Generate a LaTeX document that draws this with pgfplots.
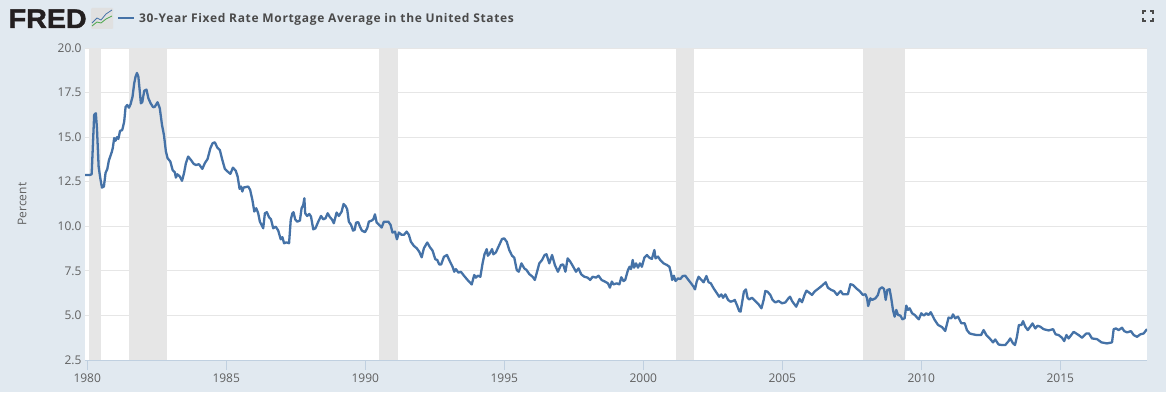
\documentclass[border=0pt]{standalone}
\usepackage{fontspec}
\setmainfont{Open Sans}
\newfontfamily\titlefont[LetterSpace=5.5]{Open Sans}
\newfontfamily\logofont[FakeBold=1.6,FakeStretch=1.06]{Liberation Sans}
\usepackage{pgfplots}
\usepackage{pgfplotstable}
\pgfplotsset{compat=1.18}
\definecolor{bgc}{HTML}{E1E9F0}
\definecolor{linec}{HTML}{4572A7}
\definecolor{gridc}{HTML}{E6E6E6}
\definecolor{recc}{HTML}{E6E6E6}
\definecolor{axisc}{HTML}{C0D0E0}
\definecolor{txtc}{HTML}{606060}
\definecolor{titlec}{HTML}{4A4A4A}
\definecolor{logoc}{HTML}{231F20}
\pgfplotstableread{
year value
1979.92 12.88
1980.10 12.88
1980.16 12.92
1980.20 14.40
1980.25 16.25
1980.31 16.34
1980.35 15.50
1980.41 13.35
1980.47 12.70
1980.53 12.17
1980.60 12.23
1980.66 13.00
1980.72 13.20
1980.78 13.70
1980.88 14.15
1980.92 14.40
1980.97 14.95
1981.02 14.80
1981.07 15.00
1981.12 14.90
1981.18 15.35
1981.26 15.40
1981.33 15.87
1981.38 16.70
1981.44 16.80
1981.50 16.65
1981.56 16.85
1981.63 17.27
1981.69 18.02
1981.74 18.40
1981.79 18.60
1981.84 18.38
1981.88 17.74
1981.93 16.90
1981.98 16.96
1982.05 17.60
1982.13 17.67
1982.20 17.18
1982.28 16.90
1982.37 16.68
1982.43 16.70
1982.53 16.96
1982.61 16.62
1982.69 15.68
1982.76 15.12
1982.83 14.19
1982.89 13.82
1982.99 13.63
1983.07 13.16
1983.15 13.03
1983.19 12.73
1983.24 12.92
1983.33 12.79
1983.41 12.55
1983.48 12.97
1983.55 13.54
1983.63 13.91
1983.73 13.72
1983.83 13.50
1983.91 13.44
1984.02 13.48
1984.14 13.22
1984.23 13.54
1984.33 13.78
1984.43 14.38
1984.51 14.66
1984.59 14.71
1984.68 14.41
1984.77 14.28
1984.86 13.72
1984.95 13.22
1985.05 13.07
1985.15 12.94
1985.24 13.29
1985.34 13.12
1985.41 12.79
1985.48 12.10
1985.53 12.23
1985.58 11.95
1985.62 12.17
1985.79 12.23
1985.86 12.04
1985.94 11.48
1986.01 10.83
1986.08 11.01
1986.15 10.73
1986.21 10.26
1986.27 10.08
1986.33 9.89
1986.39 10.73
1986.46 10.79
1986.54 10.51
1986.61 10.39
1986.69 9.89
1986.78 9.98
1986.87 9.76
1986.96 9.27
1987.02 9.39
1987.08 9.05
1987.17 9.10
1987.26 9.05
1987.32 10.36
1987.38 10.73
1987.42 10.79
1987.48 10.39
1987.55 10.26
1987.65 10.32
1987.71 11.01
1987.77 11.20
1987.81 11.57
1987.84 10.73
1987.91 10.58
1987.99 10.69
1988.05 10.54
1988.13 9.83
1988.21 9.89
1988.31 10.26
1988.41 10.58
1988.49 10.39
1988.57 10.45
1988.65 10.73
1988.73 10.51
1988.80 10.39
1988.87 10.17
1988.97 10.77
1989.05 10.58
1989.15 10.82
1989.22 11.25
1989.29 11.14
1989.35 10.96
1989.41 10.26
1989.49 10.08
1989.56 9.76
1989.62 9.80
1989.67 10.21
1989.75 10.23
1989.81 9.98
1989.88 9.76
1989.99 9.67
1990.07 9.89
1990.13 10.26
1990.23 10.32
1990.29 10.39
1990.35 10.67
1990.41 10.21
1990.50 10.08
1990.59 9.93
1990.67 10.26
1990.75 10.26
1990.83 10.26
1990.91 10.08
1990.98 9.65
1991.07 9.70
1991.14 9.27
1991.21 9.65
1991.31 9.52
1991.39 9.52
1991.49 9.70
1991.57 9.52
1991.64 9.14
1991.75 8.90
1991.85 8.77
1991.94 8.58
1992.03 8.26
1992.11 8.77
1992.23 9.09
1992.33 8.82
1992.42 8.64
1992.52 8.15
1992.59 8.11
1992.66 7.86
1992.73 7.86
1992.83 8.29
1992.94 8.39
1993.02 8.11
1993.14 7.73
1993.20 7.45
1993.26 7.60
1993.35 7.40
1993.44 7.45
1993.56 7.21
1993.68 6.99
1993.83 6.74
1993.92 7.27
1993.98 7.12
1994.05 7.23
1994.14 7.17
1994.22 7.92
1994.29 8.43
1994.37 8.72
1994.41 8.35
1994.48 8.48
1994.56 8.72
1994.61 8.43
1994.70 8.54
1994.82 8.95
1994.92 9.29
1995.00 9.32
1995.09 9.13
1995.18 8.67
1995.28 8.35
1995.36 8.24
1995.45 7.55
1995.52 7.45
1995.62 7.92
1995.72 7.64
1995.80 7.55
1995.90 7.32
1996.02 7.17
1996.10 6.99
1996.18 7.45
1996.26 7.92
1996.36 8.11
1996.45 8.39
1996.52 8.43
1996.62 7.92
1996.72 8.39
1996.82 7.83
1996.93 7.45
1997.04 7.83
1997.12 7.86
1997.20 7.45
1997.28 8.20
1997.36 8.05
1997.46 7.79
1997.58 7.45
1997.67 7.64
1997.77 7.30
1997.88 7.17
1998.00 7.12
1998.09 6.99
1998.18 7.17
1998.30 7.12
1998.39 7.23
1998.50 6.99
1998.63 6.89
1998.73 6.80
1998.80 6.56
1998.87 6.90
1998.93 6.74
1999.05 6.80
1999.14 6.74
1999.21 7.14
1999.29 6.93
1999.35 6.99
1999.45 7.55
1999.51 7.73
1999.56 7.60
1999.62 8.11
1999.67 7.68
1999.74 7.92
1999.81 7.68
1999.88 7.92
1999.95 7.73
2000.04 8.24
2000.13 8.39
2000.22 8.24
2000.31 8.17
2000.40 8.67
2000.44 8.20
2000.53 8.30
2000.61 8.11
2000.73 7.92
2000.85 7.83
2000.94 7.73
2001.00 7.36
2001.04 6.99
2001.10 7.23
2001.16 6.93
2001.25 7.08
2001.33 7.04
2001.42 7.21
2001.51 7.23
2001.61 7.02
2001.72 6.80
2001.81 6.61
2001.86 6.46
2001.92 6.89
2001.99 7.17
2002.09 6.99
2002.17 6.86
2002.27 7.21
2002.35 6.86
2002.43 6.80
2002.53 6.52
2002.65 6.24
2002.73 6.05
2002.81 6.18
2002.87 5.99
2002.95 6.18
2003.05 5.87
2003.14 5.77
2003.23 5.81
2003.29 5.87
2003.37 5.58
2003.45 5.25
2003.50 5.21
2003.56 5.77
2003.62 6.33
2003.69 6.46
2003.75 5.99
2003.81 5.90
2003.91 5.99
2004.03 5.81
2004.15 5.62
2004.25 5.40
2004.33 5.87
2004.39 6.37
2004.47 6.33
2004.57 6.15
2004.65 5.87
2004.75 5.73
2004.87 5.81
2004.99 5.68
2005.11 5.73
2005.20 5.92
2005.28 6.05
2005.35 5.81
2005.50 5.49
2005.62 5.92
2005.71 5.74
2005.80 6.15
2005.87 6.39
2005.95 6.30
2006.07 6.15
2006.16 6.34
2006.31 6.52
2006.46 6.71
2006.56 6.86
2006.64 6.56
2006.76 6.43
2006.86 6.37
2006.97 6.15
2007.10 6.37
2007.18 6.19
2007.36 6.19
2007.45 6.75
2007.54 6.71
2007.66 6.52
2007.78 6.37
2007.90 6.15
2007.99 6.19
2008.05 5.96
2008.09 5.53
2008.17 5.96
2008.23 5.87
2008.35 5.96
2008.44 6.15
2008.50 6.48
2008.59 6.58
2008.66 6.48
2008.72 5.87
2008.78 6.43
2008.86 6.47
2008.92 5.96
2008.98 5.31
2009.04 4.93
2009.10 5.31
2009.16 5.03
2009.25 4.99
2009.32 4.78
2009.40 4.84
2009.46 5.55
2009.52 5.31
2009.58 5.40
2009.67 5.12
2009.76 5.03
2009.91 4.78
2010.00 5.12
2010.09 4.99
2010.18 5.12
2010.26 5.03
2010.34 5.18
2010.48 4.75
2010.60 4.47
2010.75 4.34
2010.86 4.13
2010.98 4.88
2011.08 4.84
2011.14 5.06
2011.22 4.84
2011.32 4.93
2011.44 4.56
2011.56 4.56
2011.64 4.18
2011.74 3.99
2011.86 3.94
2012.00 3.90
2012.15 3.90
2012.24 4.18
2012.34 3.90
2012.46 3.71
2012.58 3.49
2012.66 3.65
2012.78 3.37
2012.90 3.34
2013.02 3.34
2013.14 3.56
2013.20 3.71
2013.30 3.43
2013.37 3.34
2013.44 3.80
2013.51 4.46
2013.60 4.46
2013.66 4.68
2013.74 4.37
2013.83 4.18
2013.92 4.37
2014.00 4.55
2014.10 4.27
2014.18 4.42
2014.28 4.37
2014.40 4.23
2014.58 4.16
2014.74 4.23
2014.83 3.94
2014.94 3.90
2015.06 3.75
2015.14 3.56
2015.22 3.90
2015.30 3.71
2015.48 4.08
2015.66 3.90
2015.78 3.75
2015.94 3.99
2016.03 3.99
2016.14 3.71
2016.32 3.67
2016.48 3.49
2016.68 3.43
2016.86 3.49
2016.92 4.23
2017.00 4.27
2017.10 4.18
2017.22 4.31
2017.30 4.12
2017.40 4.05
2017.54 4.12
2017.64 3.90
2017.76 3.80
2017.88 3.94
2018.00 3.99
2018.09 4.18
2018.12 4.22
}\mortgage
\begin{document}
\begin{tikzpicture}[x=1pt,y=1pt]
\fill[bgc] (0,0) rectangle (1166,392);
% logo
\node[anchor=base west,inner sep=0pt,text=logoc] at (8.5,364) {\logofont\bfseries\fontsize{27}{27}\selectfont FRED};
\fill[black!12,rounded corners=1pt] (91,363) rectangle (113,384);
\draw[linec,line width=0.8pt] (92,369)--(97,374)--(101,372)--(106,378)--(112,382);
\draw[green!50!black!70,line width=0.8pt] (92,366)--(97,370)--(101,369)--(106,373)--(112,376);
% legend key and title
\draw[linec,line width=2pt] (118,374)--(134,374);
\node[anchor=base west,inner sep=0pt,text=titlec] at (139,369.5) {\titlefont\bfseries\fontsize{12}{14}\selectfont 30-Year Fixed Rate Mortgage Average in the United States};
% expand icon
\begin{scope}[titlec,line width=1.2pt]
\draw (1143,378)--(1143,381)--(1146,381);
\draw (1150,381)--(1153,381)--(1153,378);
\draw (1143,374)--(1143,371)--(1146,371);
\draw (1150,371)--(1153,371)--(1153,374);
\end{scope}
\begin{axis}[
  at={(85pt,32pt)},anchor=south west,
  width=1062pt,height=312pt,scale only axis,
  xmin=1979.92,xmax=2018.12,ymin=2.5,ymax=20,
  axis background/.style={fill=white},
  axis x line*=bottom,axis y line*=left,
  x axis line style={draw=axisc,-},
  y axis line style={draw=none,-},
  xtick={1980,1985,1990,1995,2000,2005,2010,2015},
  ytick={2.5,5,7.5,10,12.5,15,17.5,20},
  ymajorgrids,
  major grid style={draw=gridc,line width=1pt},
  xtick align=outside,
  xtick style={draw=axisc,line width=1pt},
  ytick style={draw=none},
  x tick label style={/pgf/number format/.cd,1000 sep={},assume math mode=true},
  y tick label style={/pgf/number format/.cd,fixed,fixed zerofill,precision=1,assume math mode=true},
  scaled ticks=false,
  tick label style={font=\fontsize{12}{14}\selectfont,text=txtc},
  major tick length=10pt,
  ylabel={Percent},
  ylabel style={font=\fontsize{12}{14}\selectfont,text=txtc,at={(axis description cs:0,0.5)},anchor=south,yshift=55pt},
  clip=true,
]
\addplot[fill=recc,draw=none] coordinates {(1980.05,2.5)(1980.05,20)(1980.5,20)(1980.5,2.5)};
\addplot[fill=recc,draw=none] coordinates {(1981.5,2.5)(1981.5,20)(1982.87,20)(1982.87,2.5)};
\addplot[fill=recc,draw=none] coordinates {(1990.5,2.5)(1990.5,20)(1991.17,20)(1991.17,2.5)};
\addplot[fill=recc,draw=none] coordinates {(2001.17,2.5)(2001.17,20)(2001.83,20)(2001.83,2.5)};
\addplot[fill=recc,draw=none] coordinates {(2007.92,2.5)(2007.92,20)(2009.42,20)(2009.42,2.5)};
\addplot[linec,line width=2.3pt,line join=round,no marks] table[x=year,y=value] {\mortgage};
\end{axis}
\end{tikzpicture}
\end{document}
